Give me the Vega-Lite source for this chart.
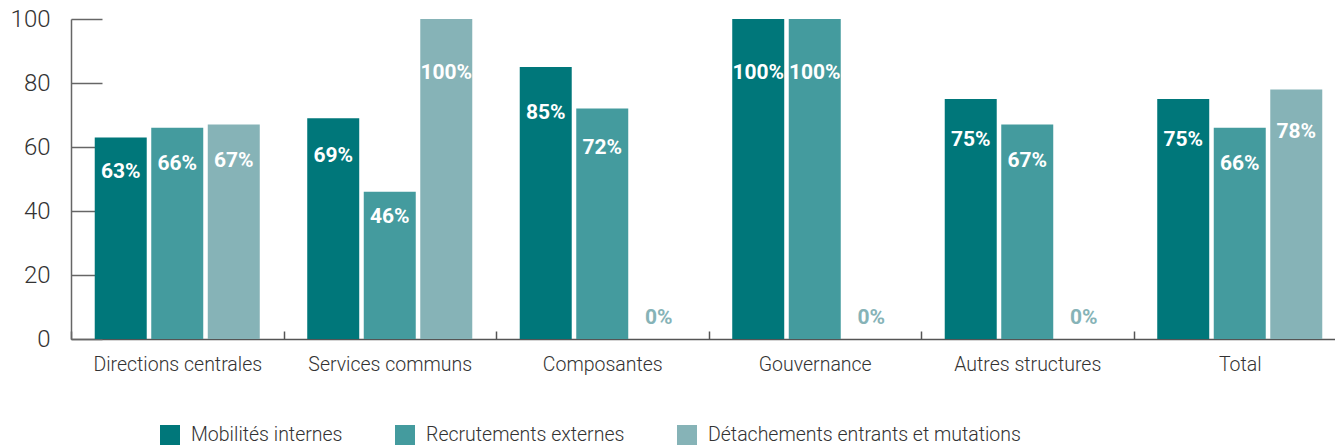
{
  "$schema": "https://vega.github.io/schema/vega-lite/v6.json",
  "width": 1264,
  "height": 320,
  "autosize": {"type": "none"},
  "padding": {"left": 71, "top": 19, "right": 0, "bottom": 106},
  "background": "white",
  "config": {"font": "Roboto", "view": {"stroke": null}},
  "data": {
    "values": [
      {"cat": "Directions centrales", "series": "Mobilités internes", "value": 63, "label": "63%"},
      {"cat": "Directions centrales", "series": "Recrutements externes", "value": 66, "label": "66%"},
      {"cat": "Directions centrales", "series": "Détachements entrants et mutations", "value": 67, "label": "67%"},
      {"cat": "Services communs", "series": "Mobilités internes", "value": 69, "label": "69%"},
      {"cat": "Services communs", "series": "Recrutements externes", "value": 46, "label": "46%"},
      {"cat": "Services communs", "series": "Détachements entrants et mutations", "value": 100, "label": "100%"},
      {"cat": "Composantes", "series": "Mobilités internes", "value": 85, "label": "85%"},
      {"cat": "Composantes", "series": "Recrutements externes", "value": 72, "label": "72%"},
      {"cat": "Composantes", "series": "Détachements entrants et mutations", "value": 0, "label": "0%"},
      {"cat": "Gouvernance", "series": "Mobilités internes", "value": 100, "label": "100%"},
      {"cat": "Gouvernance", "series": "Recrutements externes", "value": 100, "label": "100%"},
      {"cat": "Gouvernance", "series": "Détachements entrants et mutations", "value": 0, "label": "0%"},
      {"cat": "Autres structures", "series": "Mobilités internes", "value": 75, "label": "75%"},
      {"cat": "Autres structures", "series": "Recrutements externes", "value": 67, "label": "67%"},
      {"cat": "Autres structures", "series": "Détachements entrants et mutations", "value": 0, "label": "0%"},
      {"cat": "Total", "series": "Mobilités internes", "value": 75, "label": "75%"},
      {"cat": "Total", "series": "Recrutements externes", "value": 66, "label": "66%"},
      {"cat": "Total", "series": "Détachements entrants et mutations", "value": 78, "label": "78%"}
    ]
  },
  "encoding": {
    "x": {
      "field": "cat",
      "type": "nominal",
      "sort": ["Directions centrales", "Services communs", "Composantes", "Gouvernance", "Autres structures", "Total"],
      "scale": {"paddingInner": 0, "paddingOuter": 0, "range": [0, 1275]},
      "axis": {
        "title": null,
        "labelAngle": 0,
        "domainColor": "#555",
        "domainWidth": 1.5,
        "tickColor": "#555",
        "tickWidth": 1.5,
        "tickSize": -8,
        "tickBand": "extent",
        "labelFontSize": 19.5,
        "labelFontWeight": 300,
        "labelColor": "#333",
        "labelPadding": 24
      }
    },
    "xOffset": {
      "field": "series",
      "type": "nominal",
      "sort": ["Mobilités internes", "Recrutements externes", "Détachements entrants et mutations"],
      "scale": {"paddingInner": 0.08, "paddingOuter": 0.42}
    }
  },
  "layer": [
    {
      "mark": {"type": "bar"},
      "encoding": {
        "y": {
          "field": "value",
          "type": "quantitative",
          "scale": {"domain": [0, 100], "nice": false},
          "axis": {
            "title": null,
            "values": [0, 20, 40, 60, 80, 100],
            "grid": false,
            "tickSize": -31,
            "tickColor": "#666",
            "tickWidth": 1.5,
            "domainColor": "#666",
            "domainWidth": 1.5,
            "labelPadding": 52,
            "labelFontSize": 24,
            "labelFontWeight": 300,
            "labelColor": "#333"
          }
        },
        "color": {
          "field": "series",
          "type": "nominal",
          "sort": ["Mobilités internes", "Recrutements externes", "Détachements entrants et mutations"],
          "scale": {
            "domain": ["Mobilités internes", "Recrutements externes", "Détachements entrants et mutations"],
            "range": ["#00777A", "#449B9E", "#86B3B7"]
          },
          "legend": {
            "orient": "none",
            "legendX": 89,
            "legendY": 406,
            "direction": "horizontal",
            "title": null,
            "symbolType": "square",
            "symbolSize": 400,
            "symbolStrokeWidth": 0,
            "labelFontSize": 19.5,
            "labelFontWeight": 300,
            "labelColor": "#333",
            "labelOffset": 11,
            "labelLimit": 500,
            "columnPadding": 52,
            "padding": 0
          }
        }
      }
    },
    {
      "transform": [{"filter": "datum.value > 0"}],
      "mark": {"type": "text", "color": "white", "fontWeight": "bold", "fontSize": 21, "baseline": "middle", "dy": 1},
      "encoding": {
        "y": {"field": "value", "type": "quantitative", "scale": {"domain": [0, 120], "nice": false}, "axis": null},
        "text": {"field": "label"}
      }
    },
    {
      "transform": [{"filter": "datum.value == 0"}],
      "mark": {"type": "text", "color": "#86B3B7", "fontWeight": "bold", "fontSize": 21, "baseline": "middle", "dy": -21},
      "encoding": {
        "y": {"field": "value", "type": "quantitative", "scale": {"domain": [0, 100], "nice": false}, "axis": null},
        "text": {"field": "label"}
      }
    }
  ],
  "resolve": {"scale": {"y": "independent"}}
}
